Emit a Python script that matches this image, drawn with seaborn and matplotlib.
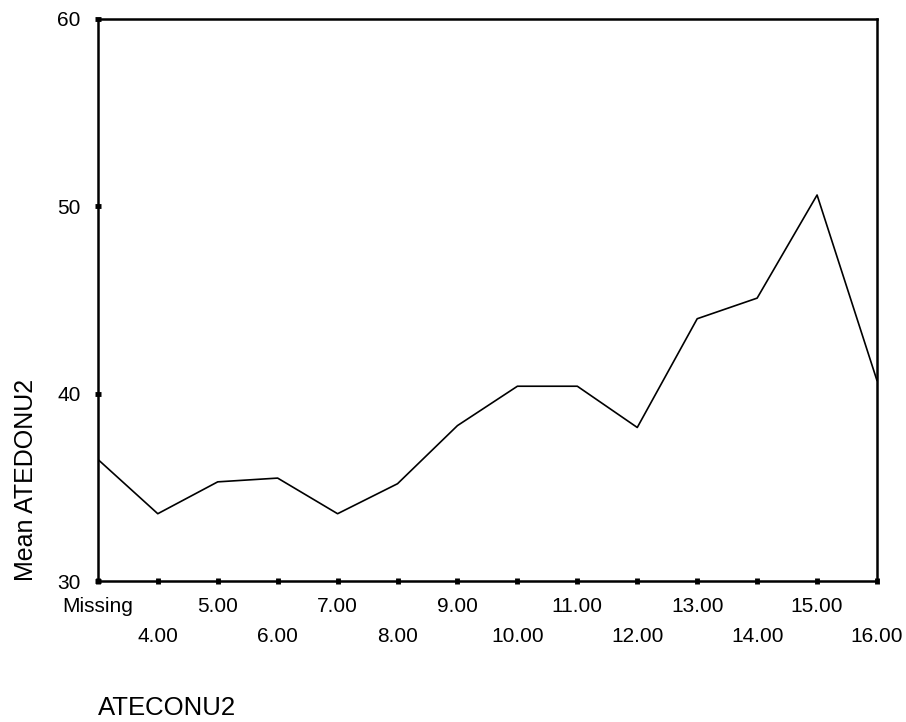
import matplotlib
matplotlib.use("Agg")
import matplotlib.pyplot as plt
import seaborn as sns
import pandas as pd

categories = ["Missing", "4.00", "5.00", "6.00", "7.00", "8.00", "9.00",
              "10.00", "11.00", "12.00", "13.00", "14.00", "15.00", "16.00"]
mean_values = [36.5, 33.6, 35.3, 35.5, 33.6, 35.2, 38.3,
               40.4, 40.4, 38.2, 44.0, 45.1, 50.6, 40.7]
y_ticks = [30, 40, 50, 60]

sns.set_theme(style="white")
plt.rcParams["font.family"] = ["Liberation Sans", "DejaVu Sans"]

df = pd.DataFrame({"pos": range(len(categories)), "cat": categories, "mean": mean_values})

fig = plt.figure(figsize=(9.06, 7.22), dpi=100)
ax = fig.add_axes([0.108, 0.195, 0.860, 0.779])
sns.lineplot(data=df, x="pos", y="mean", color="black", linewidth=1.2, ax=ax)

ax.set_xlim(0, len(categories) - 1)
ax.set_ylim(30, 60)
ax.set_yticks(y_ticks)
ax.set_yticklabels([str(v) for v in y_ticks], fontsize=15, color="black")
ax.set_xticks(df["pos"])
labels = [c if i % 2 == 0 else "\n" + c for i, c in enumerate(categories)]
ax.set_xticklabels(labels, fontsize=15, color="black")
for t in ax.get_xticklabels():
    t.set_linespacing(1.7)

for s in ax.spines.values():
    s.set_color("black")
    s.set_linewidth(1.8)

ax.tick_params(axis="both", which="major", direction="inout", length=5, width=3.5,
               color="black", bottom=True, left=True, pad=10)
ax.tick_params(axis="x", pad=9)
ax.set_ylabel("Mean ATEDONU2", fontsize=18, color="black")
ax.yaxis.set_label_coords(-0.092, 0.0, transform=ax.transAxes)
ax.yaxis.label.set_verticalalignment("center")
ax.yaxis.label.set_horizontalalignment("left")
ax.set_xlabel("ATECONU2", fontsize=18.5, color="black")
ax.xaxis.set_label_coords(0.0, -0.225, transform=ax.transAxes)
ax.xaxis.label.set_horizontalalignment("left")
ax.xaxis.label.set_verticalalignment("center")

fig.savefig("out.png", dpi=100)
